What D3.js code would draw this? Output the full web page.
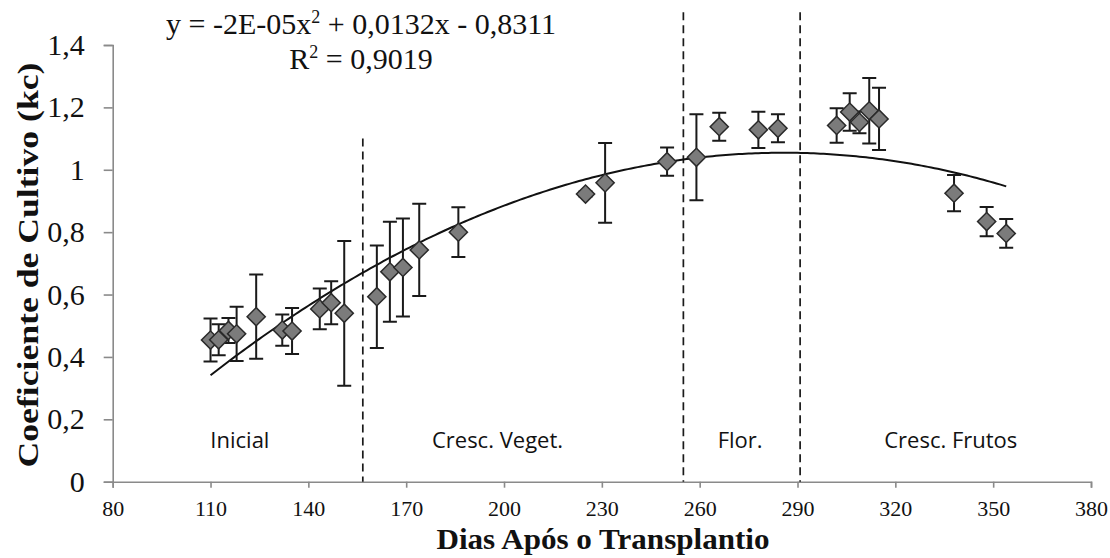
<!DOCTYPE html>
<html>
<head>
<meta charset="utf-8">
<script src="https://cdn.jsdelivr.net/npm/d3@7"></script>
<style>
  html, body { margin: 0; padding: 0; background: #fff; }
  svg { display: block; }
</style>
</head>
<body>
<svg id="chart" width="1110" height="558"></svg>
<script>
// Days after transplanting (DAT) of each kc measurement
const days = [110, 112.5, 115.5, 118, 124, 132, 135, 143.5, 147, 151,
              161, 165, 169, 174, 186, 225, 231, 250, 259, 266,
              278, 284, 302, 306, 309, 312, 315, 338, 348, 354];
// Mean crop coefficient (kc)
const kc = [0.454, 0.455, 0.485, 0.474, 0.529, 0.486, 0.483, 0.554, 0.574, 0.540,
            0.593, 0.673, 0.687, 0.743, 0.800, 0.922, 0.958, 1.026, 1.040, 1.138,
            1.128, 1.133, 1.142, 1.185, 1.152, 1.189, 1.163, 0.925, 0.834, 0.796];
// Standard deviation of kc (half-length of the error bars)
const kcErr = [0.069, 0.050, 0.040, 0.087, 0.135, 0.050, 0.074, 0.065, 0.069, 0.232,
               0.164, 0.160, 0.157, 0.148, 0.080, 0.008, 0.128, 0.045, 0.138, 0.045,
               0.058, 0.045, 0.055, 0.060, 0.035, 0.105, 0.100, 0.058, 0.047, 0.046];

// Quadratic trend kc = a*x^2 + b*x + c
const trendCoef = [-2.31e-5, 0.0132, -0.8311];
const trendR2 = 0.9019;
const trendRange = [110, 354];

// Phase boundaries (DAT) and the kc level where each dashed divider starts
const phaseBounds = [156.7, 255, 290.8];
const phaseTops = [1.1, 1.505, 1.505];
const phaseNames = ["Inicial", "Cresc. Veget.", "Flor.", "Cresc. Frutos"];
const phaseLabelX = [119, 198, 272.4, 337];

// Axis ticks
const xTicks = [80, 110, 140, 170, 200, 230, 260, 290, 320, 350, 380];
const yTicks = [0, 0.2, 0.4, 0.6, 0.8, 1, 1.2, 1.4];
const yTickLabels = ["0", "0,2", "0,4", "0,6", "0,8", "1", "1,2", "1,4"];

const xTitle = "Dias Após o Transplantio";
const yTitle = "Coeficiente de Cultivo (kc)";

const svg = d3.select("#chart");
const W = 1110, H = 558;
const plot = { left: 112.7, right: 1091, top: 45, bottom: 481.7 };

const x = d3.scaleLinear().domain([80, 380]).range([plot.left, plot.right]);
const y = d3.scaleLinear().domain([0, 1.4]).range([plot.bottom, plot.top]);

svg.append("rect").attr("width", W).attr("height", H).attr("fill", "#fff");

const serif = "'Liberation Serif', 'Times New Roman', serif";
const sans = "'Open Sans', 'Noto Sans', sans-serif";
const axisColor = "#8a8a8a";

// Y axis
const yAxis = svg.append("g")
  .attr("transform", `translate(${plot.left},0)`)
  .call(d3.axisLeft(y).tickValues(yTicks).tickSize(9).tickPadding(19)
        .tickFormat((d, i) => yTickLabels[i]));
yAxis.select(".domain").attr("stroke", axisColor).attr("stroke-width", 1.6);
yAxis.selectAll(".tick line").attr("stroke", axisColor).attr("stroke-width", 1.6);
yAxis.selectAll(".tick text")
  .attr("font-family", serif).attr("font-size", 30).attr("fill", "#111")
  .attr("dy", "0.32em");

// X axis
const xAxis = svg.append("g")
  .attr("transform", `translate(0,${plot.bottom})`)
  .call(d3.axisBottom(x).tickValues(xTicks).tickSize(6).tickSizeOuter(6).tickPadding(13)
        .tickFormat(d3.format("d")));
xAxis.select(".domain").attr("stroke", axisColor).attr("stroke-width", 1.6);
xAxis.selectAll(".tick line").attr("stroke", axisColor).attr("stroke-width", 1.6);
xAxis.selectAll(".tick text")
  .attr("font-family", serif).attr("font-size", 22).attr("fill", "#111");

// Phase dividers
svg.append("g").selectAll("line")
  .data(phaseBounds)
  .join("line")
  .attr("x1", d => x(d)).attr("x2", d => x(d))
  .attr("y1", (d, i) => y(phaseTops[i])).attr("y2", y(0))
  .attr("stroke", "#1a1a1a").attr("stroke-width", 1.7)
  .attr("stroke-dasharray", "8,5");

// Phase names
svg.append("g").selectAll("text")
  .data(phaseNames)
  .join("text")
  .attr("x", (d, i) => x(phaseLabelX[i]))
  .attr("y", 448)
  .attr("text-anchor", "middle")
  .attr("font-family", sans).attr("font-size", 22).attr("fill", "#111")
  .text(d => d);

// Trend curve
const trend = xv => trendCoef[0] * xv * xv + trendCoef[1] * xv + trendCoef[2];
const trendPts = d3.range(trendRange[0], trendRange[1] + 0.5, 1).map(d => [d, trend(d)]);
svg.append("path")
  .datum(trendPts)
  .attr("fill", "none").attr("stroke", "#111").attr("stroke-width", 2)
  .attr("d", d3.line().x(d => x(d[0])).y(d => y(d[1])));

// Error bars
const pts = days.map((d, i) => ({ d, v: kc[i], e: kcErr[i] }));
const cap = 7;
const eb = svg.append("g").attr("stroke", "#1a1a1a").attr("stroke-width", 2).attr("fill", "none");
eb.selectAll("path")
  .data(pts)
  .join("path")
  .attr("d", p => {
    const cx = x(p.d), t = y(p.v + p.e), b = y(p.v - p.e);
    return `M${cx},${t}V${b}M${cx - cap},${t}H${cx + cap}M${cx - cap},${b}H${cx + cap}`;
  });

// Diamond markers
const diamond = d3.symbol(d3.symbolSquare, 165);
svg.append("g").selectAll("path")
  .data(pts)
  .join("path")
  .attr("d", diamond)
  .attr("transform", p => `translate(${x(p.d)},${y(p.v)}) rotate(45)`)
  .attr("fill", "#7b7b7b").attr("stroke", "#2a2a2a").attr("stroke-width", 1.5);

// Regression equation
function fmtDec(v, n) { return v.toFixed(n).replace(".", ","); }
function fmtSci(v) {
  const [m, e] = v.toExponential(0).split("e");
  const ex = parseInt(e, 10);
  return m + "E" + (ex < 0 ? "-" : "+") + String(Math.abs(ex)).padStart(2, "0");
}
const eq = svg.append("text")
  .attr("x", 361).attr("y", 34).attr("text-anchor", "middle")
  .attr("font-family", serif).attr("font-size", 30).attr("fill", "#111");
eq.append("tspan").text(`y = ${fmtSci(trendCoef[0])}x`);
eq.append("tspan").attr("font-size", 18).attr("dy", -11).text("2");
eq.append("tspan").attr("dy", 11)
  .text(` + ${fmtDec(trendCoef[1], 4)}x ${trendCoef[2] < 0 ? "-" : "+"} ${fmtDec(Math.abs(trendCoef[2]), 4)}`);

const r2 = svg.append("text")
  .attr("x", 361).attr("y", 69).attr("text-anchor", "middle")
  .attr("font-family", serif).attr("font-size", 30).attr("fill", "#111");
r2.append("tspan").text("R");
r2.append("tspan").attr("font-size", 18).attr("dy", -11).text("2");
r2.append("tspan").attr("dy", 11).text(` = ${fmtDec(trendR2, 4)}`);

// Axis titles
svg.append("text")
  .attr("x", 603).attr("y", 549).attr("text-anchor", "middle")
  .attr("font-family", serif).attr("font-weight", "bold").attr("font-size", 30).attr("fill", "#111")
  .attr("textLength", 333).attr("lengthAdjust", "spacingAndGlyphs")
  .text(xTitle);

svg.append("text")
  .attr("transform", `translate(38,265) rotate(-90)`)
  .attr("text-anchor", "middle")
  .attr("font-family", serif).attr("font-weight", "bold").attr("font-size", 30).attr("fill", "#111")
  .attr("textLength", 405).attr("lengthAdjust", "spacingAndGlyphs")
  .text(yTitle);
</script>
</body>
</html>
